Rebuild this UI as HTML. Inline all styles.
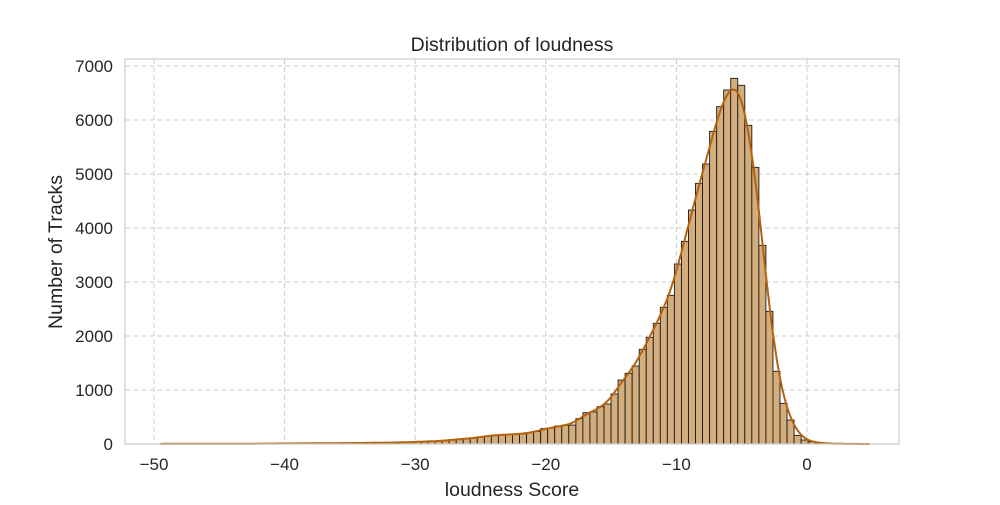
<!DOCTYPE html>
<html><head><meta charset="utf-8"><style>
body{margin:0;background:#fff}
svg text{font-family:"Liberation Sans",Arial,sans-serif;fill:#262626}
</style></head><body>
<svg id="chart" width="1000" height="500">
<text x="512" y="51" font-size="19.5" text-anchor="middle">Distribution of loudness</text>
<text x="512" y="496" font-size="19.5" text-anchor="middle">loudness Score</text>
<text transform="translate(62,252) rotate(-90)" font-size="19.5" text-anchor="middle">Number of Tracks</text>
<g id="grid"></g><g id="bars"></g><g id="kde"></g><g id="ticks"></g>
<rect x="125" y="59" width="774" height="385" fill="none" stroke="#cccccc" stroke-width="1.2"/>
</svg>
<script>
const binStart = -49.5;
const binWidth = 0.539;
const counts = [4,4,4,3,3,3,4,4,4,5,5,5,6,6,7,8,8,9,10,10,12,12,13,14,15,16,17,18,19,20,
 22,24,26,28,30,35,40,45,50,55,60,80,90,100,110,130,150,165,170,175,180,190,
 210,230,284,296,333,346,350,469,580,593,690,741,926,1185,1309,1444,1753,1975,2235,2531,2753,3333,3753,4333,4827,5185,5790,6247,6556,6772,6642,5901,5123,3679,2457,1346,753,444,160,74,
 40,20,10,5,3,2,1,1];
const xTicks = [-50,-40,-30,-20,-10,0];
const yTicks = [0,1000,2000,3000,4000,5000,6000,7000];
const NS='http://www.w3.org/2000/svg';
const X = v => 807 + (v)*13.06;
const Y = v => 444 - v*0.054;
function mk(tag, attrs, parent){const e=document.createElementNS(NS,tag);for(const k in attrs)e.setAttribute(k,attrs[k]);parent.appendChild(e);return e;}
const grid=document.getElementById('grid'), bars=document.getElementById('bars'), kde=document.getElementById('kde'), ticks=document.getElementById('ticks');
xTicks.forEach(t=>{
 const l=mk('line',{x1:X(t),x2:X(t),y1:59,y2:444,stroke:'#cccccc','stroke-dasharray':'5,3','stroke-width':1},grid);
 
 
 const tx=mk('text',{x:X(t),y:470,'font-size':17,'text-anchor':'middle'},ticks);
 tx.textContent=(t<0?'\u2212'+(-t):t);
 
 
});
yTicks.forEach(t=>{
 if(t>0){const l=mk('line',{x1:125,x2:899,y1:Y(t),y2:Y(t),stroke:'#cccccc','stroke-dasharray':'5,3','stroke-width':1},grid);
 
 }
 const tx=mk('text',{x:113,y:Y(t)+6,'font-size':17,'text-anchor':'end'},ticks);
 tx.textContent=t;
 
 
});
counts.forEach((c,k)=>{
 const x0=X(binStart+k*binWidth), x1=X(binStart+(k+1)*binWidth);
 const r=mk('rect',{x:x0,y:Y(c),width:x1-x0,height:444-Y(c),fill:'#d4ad7c',stroke:'#1a1a1a','stroke-width':0.9},bars);
 
 
});
const h=0.6; let d='';
for(let x=binStart; x<=binStart+counts.length*binWidth+0.5; x+=0.1){
 let s=0; counts.forEach((c,k)=>{const m=binStart+(k+0.5)*binWidth;const z=(x-m)/h;s+=c*Math.exp(-0.5*z*z);});
 s=s*binWidth/(h*Math.sqrt(2*Math.PI));
 d+=(d?'L':'M')+X(x).toFixed(1)+','+Y(s).toFixed(1);
}
const p=mk('path',{d:d,fill:'none',stroke:'#b5620c','stroke-width':2},kde);


</script>
</body></html>
